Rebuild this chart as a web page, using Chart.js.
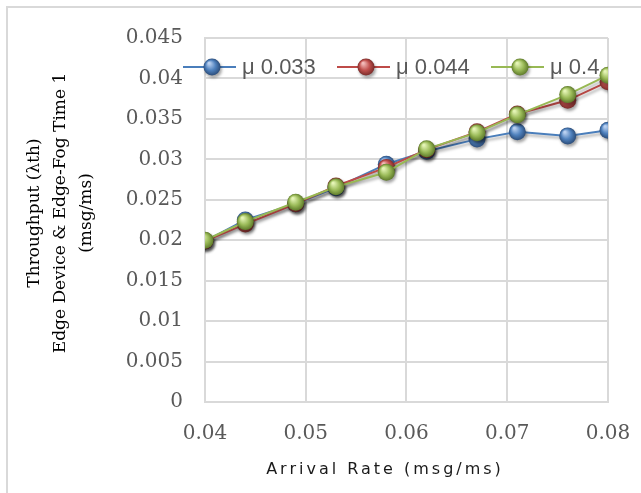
<!DOCTYPE html>
<html>
<head>
<meta charset="utf-8">
<script src="https://cdn.jsdelivr.net/npm/chart.js@4"></script>
<style>
  html, body { margin: 0; padding: 0; background: #fff; }
  canvas { display: block; }
</style>
</head>
<body>
<canvas id="chart" width="641" height="493"></canvas>
<script>
// arrival rate (msg/ms)
var arrivalRates = [0.04, 0.044, 0.049, 0.053, 0.058, 0.062, 0.067, 0.071, 0.076, 0.08];
// throughput per service rate
var mu033 = [0.0199, 0.0225, 0.0245, 0.0265, 0.0294, 0.0310, 0.0325, 0.0334, 0.0329, 0.0336];
var mu044 = [0.0199, 0.0220, 0.0245, 0.0267, 0.0290, 0.0312, 0.0334, 0.0356, 0.0373, 0.0396];
var mu04 = [0.0200, 0.0223, 0.0247, 0.0266, 0.0284, 0.0313, 0.0333, 0.0355, 0.0380, 0.0404];
var seriesNames = ['\u03bc 0.033', '\u03bc 0.044', '\u03bc 0.4'];
var xTicks = [0.04, 0.05, 0.06, 0.07, 0.08];

var colors = [
    { line: '#4A7EBB', base: '#4F81BD', light: '#B9D0F0', dark: '#2C4D7A' },
    { line: '#BE4B48', base: '#C0504D', light: '#F2B9B7', dark: '#7A2C2A' },
    { line: '#98B954', base: '#9BBB59', light: '#E4F4B5', dark: '#5E7A2A' }
];

function points(ys) {
    return arrivalRates.map(function (x, i) { return { x: x, y: ys[i] }; });
}

function sphereFill(ctx, px, py, r, c) {
    var g = ctx.createRadialGradient(px - r * 0.35, py - r * 0.45, r * 0.1, px, py, r);
    g.addColorStop(0, c.light);
    g.addColorStop(0.55, c.base);
    g.addColorStop(1, c.dark);
    return g;
}

function sphere(c) {
    return function (context) {
        if (context.type !== 'data') return c.base;
        var ch = context.chart;
        var xs = ch.scales.x, ys = ch.scales.y;
        if (!xs || !ys || !context.raw) return c.base;
        var px = xs.getPixelForValue(context.raw.x);
        var py = ys.getPixelForValue(context.raw.y);
        if (!isFinite(px) || !isFinite(py)) return c.base;
        return sphereFill(ch.ctx, px, py, 8.5, c);
    };
}

function makeSet(i, ys, order) {
    return {
        label: seriesNames[i],
        data: points(ys),
        borderColor: colors[i].line,
        borderWidth: 2,
        pointRadius: 8.5,
        pointBorderWidth: 0,
        pointBackgroundColor: sphere(colors[i]),
        order: order
    };
}

var decor = {
    id: 'decor',
    beforeDraw: function (chart) {
        var ctx = chart.ctx;
        ctx.save();
        ctx.strokeStyle = '#d9d9d9';
        ctx.lineWidth = 2;
        ctx.beginPath();
        ctx.moveTo(7, 500);
        ctx.lineTo(7, 7);
        ctx.lineTo(650, 7);
        ctx.stroke();
        ctx.restore();
    },
    beforeDatasetsDraw: function (chart) {
        var ctx = chart.ctx;
        ctx.save();
        // y axis title
        ctx.fillStyle = '#000';
        ctx.font = '17px "DejaVu Serif"';
        ctx.textAlign = 'center';
        ctx.textBaseline = 'middle';
        var yLines = ['Throughput (\u03bbth)', 'Edge Device & Edge-Fog Time 1', '(msg/ms)'];
        ctx.translate(0, 213);
        ctx.rotate(-Math.PI / 2);
        for (var i = 0; i < yLines.length; i++) {
            ctx.fillText(yLines[i], 0, 35 + i * 26);
        }
        ctx.restore();

        ctx.save();
        ctx.fillStyle = '#1a1a1a';
        ctx.font = '16px "DejaVu Sans"';
        ctx.letterSpacing = '3px';
        ctx.textAlign = 'center';
        ctx.textBaseline = 'middle';
        ctx.fillText('Arrival Rate (msg/ms)', 385, 470);
        ctx.restore();

        // legend
        var lx = [183, 337, 491];
        ctx.save();
        ctx.font = '22px "Liberation Sans"';
        ctx.textBaseline = 'middle';
        ctx.fillStyle = '#595959';
        for (var k = 0; k < 3; k++) {
            var y = 67;
            ctx.strokeStyle = colors[k].line;
            ctx.lineWidth = 2;
            ctx.beginPath();
            ctx.moveTo(lx[k], y);
            ctx.lineTo(lx[k] + 53, y);
            ctx.stroke();
            ctx.save();
            ctx.shadowColor = 'rgba(0,0,0,0.35)';
            ctx.shadowOffsetX = 1.5;
            ctx.shadowOffsetY = 2.5;
            ctx.shadowBlur = 3;
            ctx.fillStyle = sphereFill(ctx, lx[k] + 29, y, 8.5, colors[k]);
            ctx.beginPath();
            ctx.arc(lx[k] + 29, y, 8.5, 0, Math.PI * 2);
            ctx.fill();
            ctx.restore();
            ctx.fillText(seriesNames[k], lx[k] + 59, y + 1);
        }
        ctx.restore();

        ctx.save();
        ctx.shadowColor = 'rgba(0,0,0,0.35)';
        ctx.shadowOffsetX = 1.5;
        ctx.shadowOffsetY = 2.5;
        ctx.shadowBlur = 3;
    },
    afterDatasetsDraw: function (chart) {
        chart.ctx.restore();
    }
};

new Chart(document.getElementById('chart').getContext('2d'), {
    type: 'line',
    data: {
        datasets: [
            makeSet(0, mu033, 2),
            makeSet(1, mu044, 1),
            makeSet(2, mu04, 0)
        ]
    },
    plugins: [decor],
    options: {
        responsive: false,
        animation: false,
        layout: { padding: { top: 38, right: 33, left: 0, bottom: 0 } },
        plugins: {
            legend: { display: false },
            tooltip: { enabled: false }
        },
        scales: {
            x: {
                type: 'linear',
                min: 0.04,
                max: 0.08,
                afterFit: function (s) {
                    s.height = 91;
                    s.paddingLeft = 0;
                    s.paddingRight = 0;
                },
                afterBuildTicks: function (s) {
                    s.ticks = xTicks.map(function (v) { return { value: v }; });
                },
                grid: { color: '#d9d9d9', lineWidth: 2, tickLength: 0 },
                border: { color: '#d9d9d9', width: 2 },
                ticks: {
                    padding: 20,
                    color: '#595959',
                    font: { family: 'DejaVu Serif', size: 20 },
                    maxRotation: 0,
                    callback: function (v) { return String(+v.toFixed(3)); }
                }
            },
            y: {
                min: 0,
                max: 0.045,
                afterFit: function (s) {
                    s.width = 205;
                    s.paddingTop = 0;
                    s.paddingBottom = 0;
                },
                grid: { color: '#d9d9d9', lineWidth: 2, tickLength: 0 },
                border: { color: '#d9d9d9', width: 2 },
                ticks: {
                    stepSize: 0.005,
                    padding: 22,
                    color: '#595959',
                    font: { family: 'DejaVu Serif', size: 20 },
                    callback: function (v) { return String(+v.toFixed(3)); }
                }
            }
        }
    }
});
</script>
</body>
</html>
